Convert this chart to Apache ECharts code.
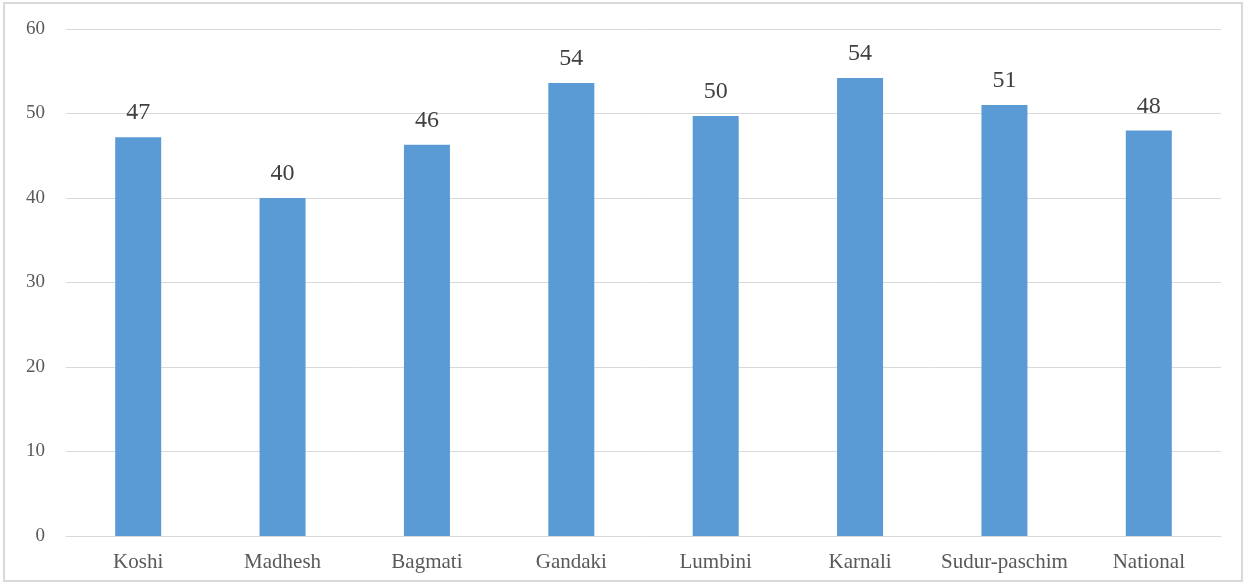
<!DOCTYPE html>
<html lang="en">
<head>
    <meta charset="UTF-8">
    <title>Provinces bar chart</title>
    <script src="https://cdn.jsdelivr.net/npm/echarts@6.0.0/dist/echarts.min.js"></script>
    <style>
        html, body { margin: 0; padding: 0; background: #fff; }
        #frame { position: absolute; left: 3px; top: 2px; width: 1240px; height: 580px; border: 2px solid #d9d9d9; box-sizing: border-box; }
        #main { position: absolute; left: 0; top: 0; width: 1248px; height: 586px; }
    </style>
</head>
<body>
    <div id="frame"></div>
    <div id="main"></div>

    <script>
        var provinces = ['Koshi', 'Madhesh', 'Bagmati', 'Gandaki', 'Lumbini', 'Karnali', 'Sudur-paschim', 'National'];
        var values = [47.2, 40.0, 46.3, 53.6, 49.7, 54.2, 51.0, 48.0];

        var serif = '"Liberation Serif", "DejaVu Serif", serif';
        var myChart = echarts.init(document.getElementById('main'));
        var option = {
            animation: false,
            grid: { left: 66, right: 27, top: 29, bottom: 50 },
            xAxis: {
                type: 'category',
                data: provinces,
                axisLine: { lineStyle: { color: '#d9d9d9', width: 1 } },
                axisTick: { show: false },
                axisLabel: { interval: 0, color: '#595959', fontFamily: serif, fontSize: 21, margin: 16 }
            },
            yAxis: {
                type: 'value',
                min: 0,
                max: 60,
                interval: 10,
                axisLine: { show: false },
                axisTick: { show: false },
                splitLine: { lineStyle: { color: '#d9d9d9', width: 1 } },
                axisLabel: { color: '#595959', fontFamily: serif, fontSize: 19, margin: 21 }
            },
            series: [{
                type: 'bar',
                data: values,
                barWidth: 46,
                itemStyle: { color: '#5b9bd5' },
                label: {
                    show: true,
                    position: 'top',
                    distance: 12,
                    color: '#404040',
                    fontFamily: serif,
                    fontSize: 24,
                    formatter: function (p) { return Math.round(p.value); }
                }
            }]
        };
        myChart.setOption(option);
    </script>
</body>
</html>
